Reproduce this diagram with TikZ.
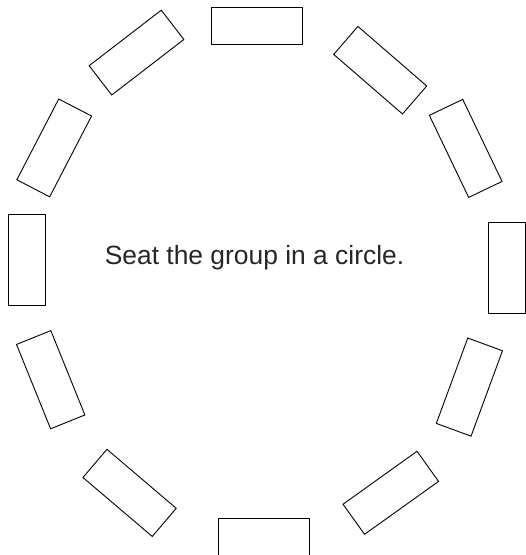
\documentclass[tikz,border=0pt]{standalone}
\usepackage{fontspec}
\setmainfont{Liberation Sans}
\definecolor{txt}{HTML}{262626}
\begin{document}
\begin{tikzpicture}[x=1pt,y=1pt,
  seat/.style={draw=black, line width=0.9pt, fill=white, rectangle,
    minimum width=91pt, minimum height=37pt, inner sep=0pt, outer sep=0pt}]
\useasboundingbox (0,0) rectangle (526,555);
\node[seat, rotate=0]     (s1)  at (256.7,529.0) {};
\node[seat, rotate=-40.9] (s2)  at (380.2,484.8) {};
\node[seat, rotate=-64.4] (s3)  at (465.7,406.6) {};
\node[seat, rotate=90]    (s4)  at (506.8,287.5) {};
\node[seat, rotate=69.8]  (s5)  at (469.4,167.9) {};
\node[seat, rotate=35.6]  (s6)  at (390.8,62.2) {};
\node[seat, rotate=0]     (s7)  at (263.8,18.5) {};
\node[seat, rotate=-40.4] (s8)  at (129.6,62.1) {};
\node[seat, rotate=-68]   (s9)  at (50.7,175.3) {};
\node[seat, rotate=90]    (s10) at (27.3,294.7) {};
\node[seat, rotate=62.6]  (s11) at (54.2,407.1) {};
\node[seat, rotate=37.6]  (s12) at (136.5,502.4) {};
\node[anchor=base, inner sep=0pt, text=txt, font=\fontsize{26.4}{30}\selectfont]
  (label) at (254.5,290) {Seat the group in a circle.};
\end{tikzpicture}
\end{document}
